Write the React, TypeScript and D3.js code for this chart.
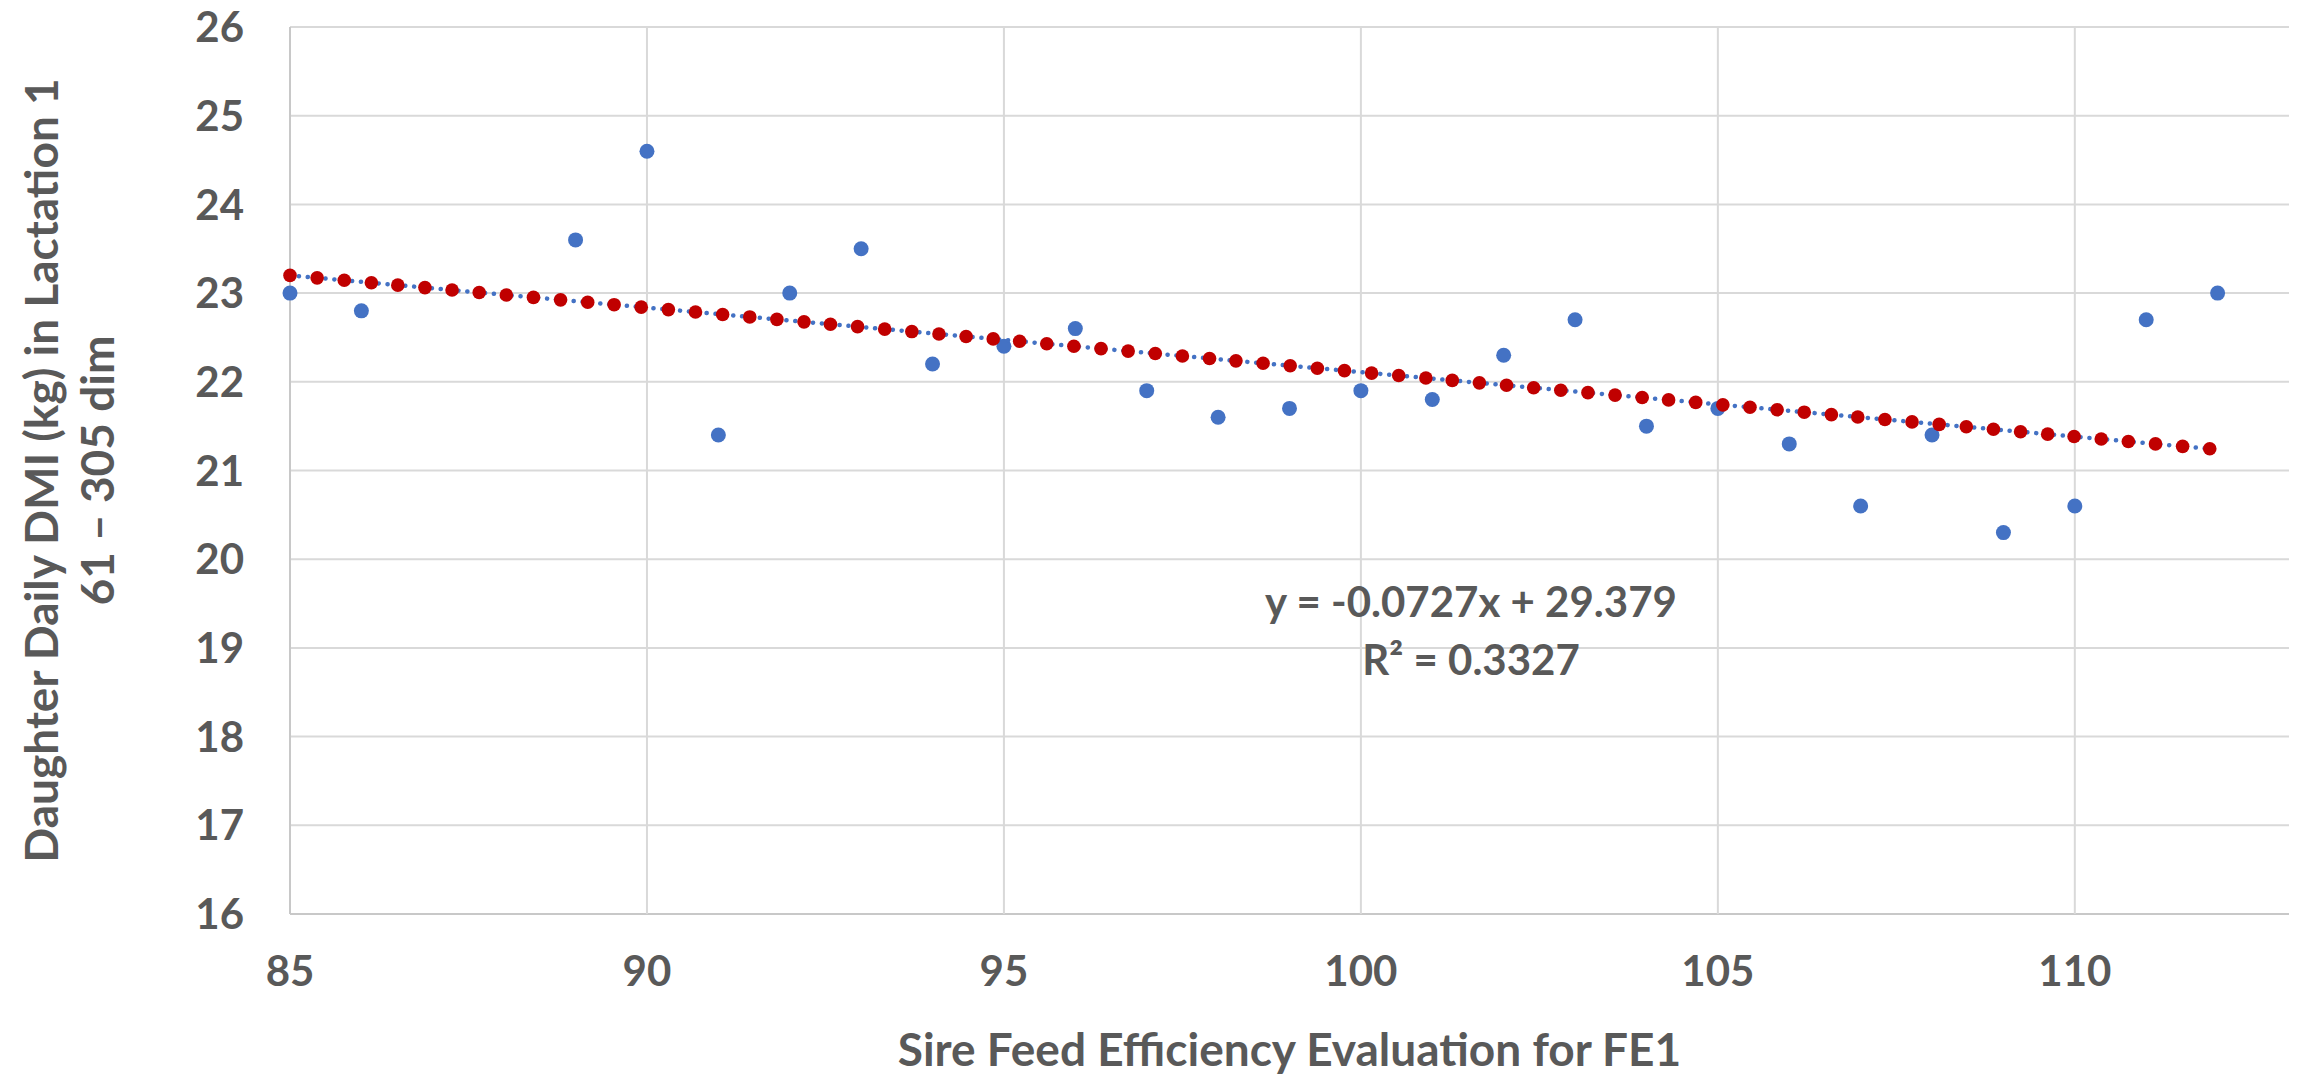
import * as d3 from 'd3'

// sire FE1 evaluation vs daughter DMI, lactation 1
const sireFE=[85,86,89,90,91,92,93,94,95,96,97,98,99,100,101,102,103,104,105,106,107,108,109,110,111,112]
const dmi=[23.0,22.8,23.6,24.6,21.4,23.0,23.5,22.2,22.4,22.6,21.9,21.6,21.7,21.9,21.8,22.3,22.7,21.5,21.7,21.3,20.6,21.4,20.3,20.6,22.7,23.0]
// red "predicted" markers sit on the fitted line, at these x
const fitX=[85.00,85.38,85.76,86.14,86.51,86.89,87.27,87.65,88.03,88.41,88.79,89.17,89.54,89.92,90.30,90.68,91.06,91.44,91.82,92.20,92.57,92.95,93.33,93.71,94.09,94.47,94.85,95.22,95.60,95.98,96.36,96.74,97.12,97.50,97.88,98.25,98.63,99.01,99.39,99.77,100.15,100.53,100.91,101.28,101.66,102.04,102.42,102.80,103.18,103.56,103.94,104.31,104.69,105.07,105.45,105.83,106.21,106.59,106.96,107.34,107.72,108.10,108.48,108.86,109.24,109.62,109.99,110.37,110.75,111.13,111.51,111.89]
const slope=-0.0727, intercept=29.379
const r2='0.3327'
const xTicks=[85,90,95,100,105,110]
const yTicks=[16,17,18,19,20,21,22,23,24,25,26]

const W=2300, H=1078
const m={top:27,right:11,bottom:164,left:290}
const FONT='Lato, "Open Sans", sans-serif'
const TXT='#595959'

export default function App() {
  const x=d3.scaleLinear().domain([85,113]).range([m.left,W-m.right])
  const y=d3.scaleLinear().domain([16,26]).range([H-m.bottom,m.top])
  const fit=(v:number)=>slope*v+intercept
  const [x0,x1]=d3.extent(sireFE) as [number,number]
  const line=d3.line<number>().x(d=>x(d)).y(d=>y(fit(d)))
  const pts=sireFE.map((v,i)=>({x:v,y:dmi[i]}))
  const midY=(y(16)+y(26))/2
  return (
    <div style={{position:'fixed',left:0,top:0}}>
      <svg width={W} height={H} style={{display:'block',background:'#fff'}}>
        <g>
          {yTicks.map(t=>(
            <line key={'h'+t} x1={x(85)} x2={x(113)} y1={y(t)} y2={y(t)} stroke={t===16?'#c8c8c8':'#d9d9d9'} strokeWidth={2}/>
          ))}
          {xTicks.map(t=>(
            <line key={'v'+t} x1={x(t)} x2={x(t)} y1={y(16)} y2={y(26)} stroke={t===85?'#c8c8c8':'#d9d9d9'} strokeWidth={2}/>
          ))}
        </g>
        <g fontFamily={FONT} fontWeight={700} fontSize={42} fill={TXT}>
          {yTicks.map(t=>(
            <text key={'yl'+t} x={244} y={y(t)} dy="0.36em" textAnchor="end">{t}</text>
          ))}
          {xTicks.map(t=>(
            <text key={'xl'+t} x={x(t)} y={986} textAnchor="middle">{t}</text>
          ))}
          <g fontSize={46}>
            <text x={(x(85)+x(113))/2} y={1066} textAnchor="middle">Sire Feed Efficiency Evaluation for FE1</text>
            <text transform={`translate(58,${midY}) rotate(-90)`} textAnchor="middle">Daughter Daily DMI (kg) in Lactation 1</text>
            <text transform={`translate(114,${midY}) rotate(-90)`} textAnchor="middle">61 – 305 dim</text>
          </g>
          <text x={1471} y={617} textAnchor="middle">y = -0.0727x + 29.379</text>
          <text x={1471} y={675} textAnchor="middle">R² = {r2}</text>
        </g>
        <g>
          {pts.map((d,i)=>(
            <circle key={'p'+i} cx={x(d.x)} cy={y(d.y)} r={7.5} fill="#4472c4"/>
          ))}
        </g>
        <path d={line([x0,x1])||''} fill="none" stroke="#4472c4" strokeWidth={4.5} strokeLinecap="round" strokeDasharray="0.1 8.8"/>
        <g>
          {fitX.map((v,i)=>(
            <circle key={'f'+i} cx={x(v)} cy={y(fit(v))} r={6.8} fill="#c00000"/>
          ))}
        </g>
      </svg>
    </div>
  )
}
